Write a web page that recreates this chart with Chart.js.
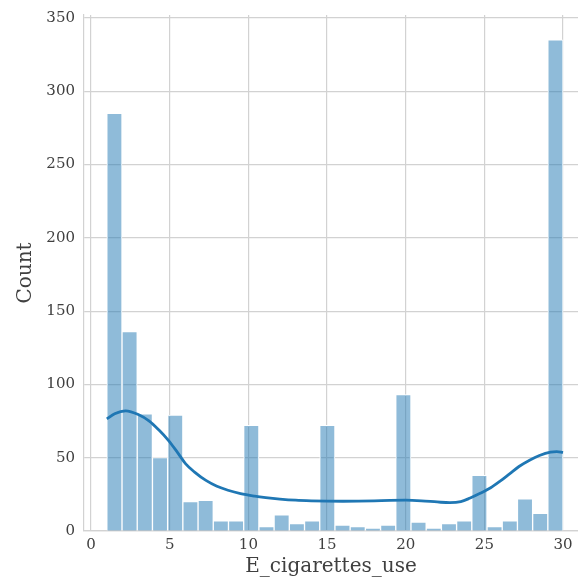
<!DOCTYPE html>
<html>
<head>
<meta charset="utf-8">
<script src="https://cdn.jsdelivr.net/npm/chart.js@4.4.1/dist/chart.umd.min.js"></script>
<style>
  html, body { margin: 0; padding: 0; background: #ffffff; }
  #wrap { width: 578px; height: 586px; overflow: hidden; }
  canvas { display: block; }
</style>
</head>
<body>
<div id="wrap"><canvas id="hist" width="578" height="586"></canvas></div>
<script>
// Histogram of E_cigarettes_use: 30 equal bins spanning 1..30
const binLow = 1;
const binHigh = 30;
const counts = [285, 136, 80, 50, 79, 20, 21, 7, 7, 72,
                3, 11, 5, 7, 72, 4, 3, 2, 4, 93,
                6, 2, 5, 7, 38, 3, 7, 22, 12, 335];

// Smoothed density curve, in count units
const kdeX = [1.0, 1.5, 2.2, 3.0, 3.7, 4.3, 4.9, 5.5, 6.0, 6.6, 7.3, 8.0, 8.7, 9.5,
              10.4, 11.1, 12, 13, 14, 15, 16, 17, 18, 19, 20, 21, 22, 22.8, 23.5,
              24.1, 24.7, 25.4, 26, 26.6, 27.2, 27.9, 28.5, 29.2, 29.6, 30];
const kdeY = [76.5, 80, 82, 79.5, 75, 69, 62, 53.5, 46, 40, 34.5, 30.5, 27.8, 25.5,
              23.8, 22.8, 21.8, 21, 20.6, 20.4, 20.3, 20.4, 20.6, 20.9, 21, 20.6, 19.8, 19.3, 20,
              22.5, 25.5, 29.5, 34, 39, 44, 48.5, 51.5, 53.8, 54.2, 53.6];

const xTicks = [0, 5, 10, 15, 20, 25, 30];
const yTicks = [0, 50, 100, 150, 200, 250, 300, 350];

const binWidth = (binHigh - binLow) / counts.length;
const barPoints = counts.map((c, i) => ({ x: binLow + (i + 0.5) * binWidth, y: c }));
const kdePoints = kdeX.map((x, i) => ({ x: x, y: kdeY[i] }));

const textColor = '#404040';
const gridColor = '#d2d2d2';
const serif = "'DejaVu Serif', serif";

new Chart(document.getElementById('hist'), {
  type: 'bar',
  data: {
    datasets: [
      {
        type: 'line',
        data: kdePoints,
        borderColor: '#1f77b4',
        borderWidth: 2.8,
        pointRadius: 0,
        tension: 0.4,
        cubicInterpolationMode: 'monotone',
        fill: false,
        order: 0
      },
      {
        type: 'bar',
        data: barPoints,
        backgroundColor: 'rgba(31,119,180,0.5)',
        borderColor: '#ffffff',
        borderWidth: 1,
        borderSkipped: 'start',
        barPercentage: 1,
        categoryPercentage: 1,
        order: 1
      }
    ]
  },
  options: {
    responsive: false,
    animation: false,
    devicePixelRatio: 1,
    layout: { padding: { top: 15, right: 0, bottom: 0, left: 0 } },
    plugins: { legend: { display: false }, tooltip: { enabled: false } },
    scales: {
      x: {
        type: 'linear',
        offset: false,
        min: -0.45,
        max: 30.95,
        afterBuildTicks: (axis) => { axis.ticks = xTicks.map(v => ({ value: v })); },
        afterFit: (axis) => {
          axis.height = 55;
          axis.paddingLeft = 0;
          axis.paddingRight = 0;
        },
        grid: { color: gridColor, lineWidth: 1.2, drawTicks: false, offset: false },
        border: { color: gridColor, width: 1.2 },
        ticks: {
          color: textColor,
          font: { family: serif, size: 15 },
          padding: 5,
          maxRotation: 0,
          autoSkip: false
        },
        title: {
          display: true,
          text: 'E_cigarettes_use',
          color: textColor,
          font: { family: serif, size: 20 },
          padding: { top: 0, bottom: 7 }
        }
      },
      y: {
        type: 'linear',
        min: 0,
        max: 352,
        afterBuildTicks: (axis) => { axis.ticks = yTicks.map(v => ({ value: v })); },
        afterFit: (axis) => {
          axis.width = 84;
          axis.paddingTop = 0;
          axis.paddingBottom = 0;
        },
        grid: { color: gridColor, lineWidth: 1.2, drawTicks: false },
        border: { color: gridColor, width: 1.2 },
        ticks: {
          color: textColor,
          font: { family: serif, size: 15 },
          padding: 9,
          autoSkip: false
        },
        title: {
          display: true,
          text: 'Count',
          color: textColor,
          font: { family: serif, size: 20 },
          padding: { top: 14, bottom: 0 }
        }
      }
    }
  }
});
</script>
</body>
</html>
